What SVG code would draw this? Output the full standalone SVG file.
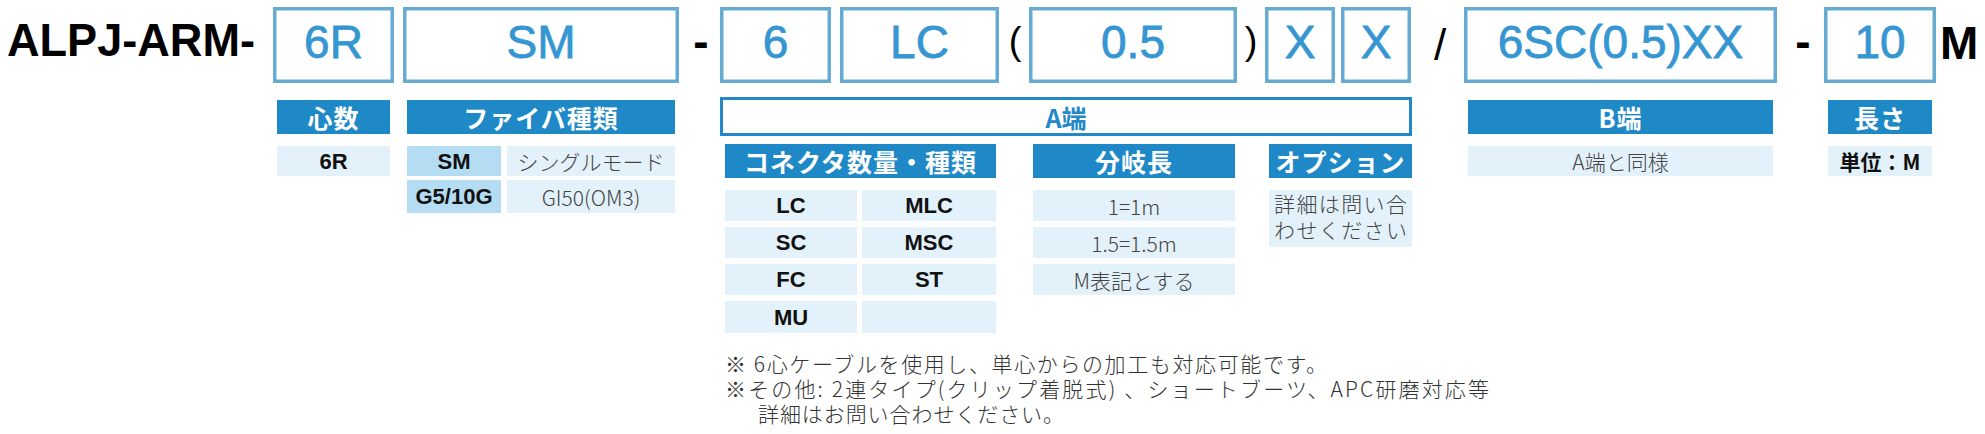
<svg xmlns="http://www.w3.org/2000/svg" width="1985" height="434" viewBox="0 0 1985 434">
<style>
.box{fill:#fff;stroke:#67aad2;stroke-width:3.5}
.big{font-family:"Liberation Sans",Arial,sans-serif;font-size:46px;fill:#3696d2;stroke:#3696d2;stroke-width:0.8;text-anchor:middle}
.blk{font-family:"Liberation Sans",Arial,sans-serif;font-weight:bold;font-size:46px;fill:#000}
.sep{font-family:"Liberation Sans",Arial,sans-serif;font-size:36px;fill:#000;text-anchor:middle}
.hdr{fill:#1f89c7}
.hdrt{font-family:"Noto Sans CJK JP",sans-serif;font-weight:bold;font-size:25px;fill:#fff;text-anchor:middle;dominant-baseline:central;letter-spacing:1px}
.c1{fill:#e2f1fa}
.c2{fill:#b4dcf2}
.cb{font-family:"Liberation Sans","Noto Sans CJK JP",sans-serif;font-weight:bold;font-size:22px;fill:#111;text-anchor:middle;dominant-baseline:central}
.cbj{font-family:"Noto Sans CJK JP",sans-serif;font-weight:bold;font-size:21px;fill:#111;text-anchor:middle;dominant-baseline:central}
.cr{font-family:"Noto Sans CJK JP",sans-serif;font-weight:300;font-size:21px;fill:#444;text-anchor:middle;dominant-baseline:central}
.crl{font-family:"Noto Sans CJK JP",sans-serif;font-weight:300;font-size:21px;fill:#444}
.note{font-family:"Noto Sans CJK JP",sans-serif;font-weight:300;font-size:21px;fill:#333}
.abox{fill:#fff;stroke:#2387c8;stroke-width:3}
.at{font-family:"Noto Sans CJK JP",sans-serif;font-weight:bold;font-size:25px;fill:#2488c8;text-anchor:middle;dominant-baseline:central}
</style>
<rect width="1985" height="434" fill="#fff"/>
<g id="code">
  <text id="prefix" class="blk" x="7" y="56" textLength="248" lengthAdjust="spacingAndGlyphs">ALPJ-ARM-</text>
  <g id="box-6R"><rect class="box" x="274.75" y="8.75" width="117.5" height="72.5"/><text class="big" x="333.5" y="58">6R</text></g>
  <g id="box-SM"><rect class="box" x="404.75" y="8.75" width="272.5" height="72.5"/><text class="big" x="541" y="58">SM</text></g>
  <text id="dash1" class="blk" x="701" y="57" text-anchor="middle">-</text>
  <g id="box-6"><rect class="box" x="721.75" y="8.75" width="107.5" height="72.5"/><text class="big" x="775.5" y="58">6</text></g>
  <g id="box-LC"><rect class="box" x="841.75" y="8.75" width="155.5" height="72.5"/><text class="big" x="919.5" y="58">LC</text></g>
  <text id="paren-open" class="sep" x="1015" y="54" style="font-size:38px">(</text>
  <g id="box-05"><rect class="box" x="1030.75" y="8.75" width="204.5" height="72.5"/><text class="big" x="1133" y="58">0.5</text></g>
  <text id="paren-close" class="sep" x="1251" y="54" style="font-size:38px">)</text>
  <g id="box-X1"><rect class="box" x="1266.75" y="8.75" width="66.5" height="72.5"/><text class="big" x="1300" y="58">X</text></g>
  <g id="box-X2"><rect class="box" x="1342.75" y="8.75" width="66.5" height="72.5"/><text class="big" x="1376" y="58">X</text></g>
  <text id="slash" class="sep" x="1440" y="60" style="font-size:44px">/</text>
  <g id="box-B"><rect class="box" x="1465.75" y="8.75" width="309.5" height="72.5"/><text class="big" x="1620.5" y="58">6SC(0.5)XX</text></g>
  <text id="dash2" class="blk" x="1803" y="57" text-anchor="middle">-</text>
  <g id="box-10"><rect class="box" x="1825.75" y="8.75" width="108.5" height="72.5"/><text class="big" x="1880" y="58">10</text></g>
  <text id="unit-M" class="blk" x="1940" y="59">M</text>
</g>
<g id="connectors"></g>
<g id="col-cores">
  <rect class="hdr" x="277" y="100" width="113" height="34"/><text class="hdrt" x="333.5" y="117">心数</text>
  <rect class="c1" x="277" y="146" width="113" height="30"/><text class="cb" x="333.5" y="161">6R</text>
</g>
<g id="col-fiber">
  <rect class="hdr" x="407" y="100" width="268" height="34"/><text class="hdrt" x="541" y="117">ファイバ種類</text>
  <rect class="c2" x="407" y="146" width="94" height="30"/><text class="cb" x="454" y="161">SM</text>
  <rect class="c1" x="507" y="146" width="168" height="30"/><text class="cr" x="591" y="161">シングルモード</text>
  <rect class="c2" x="407" y="180" width="94" height="33"/><text class="cb" x="454" y="196.5">G5/10G</text>
  <rect class="c1" x="507" y="180" width="168" height="33"/><text class="cr" x="591" y="196.5">GI50(OM3)</text>
</g>
<g id="col-A">
  <rect class="abox" x="721.5" y="98.5" width="689" height="36"/><text class="at" x="1066" y="117">A端</text>
</g>
<g id="col-connector">
  <rect class="hdr" x="725" y="144" width="271" height="34"/><text class="hdrt" x="860.5" y="161">コネクタ数量・種類</text>
  <rect class="c1" x="725" y="190" width="132" height="31"/><text class="cb" x="791" y="205.5">LC</text>
  <rect class="c1" x="862" y="190" width="134" height="31"/><text class="cb" x="929" y="205.5">MLC</text>
  <rect class="c1" x="725" y="227" width="132" height="31"/><text class="cb" x="791" y="242.5">SC</text>
  <rect class="c1" x="862" y="227" width="134" height="31"/><text class="cb" x="929" y="242.5">MSC</text>
  <rect class="c1" x="725" y="264" width="132" height="31"/><text class="cb" x="791" y="279.5">FC</text>
  <rect class="c1" x="862" y="264" width="134" height="31"/><text class="cb" x="929" y="279.5">ST</text>
  <rect class="c1" x="725" y="301" width="132" height="32"/><text class="cb" x="791" y="317">MU</text>
  <rect class="c1" x="862" y="301" width="134" height="32"/>
</g>
<g id="col-branch">
  <rect class="hdr" x="1033" y="144" width="202" height="34"/><text class="hdrt" x="1134" y="161">分岐長</text>
  <rect class="c1" x="1033" y="190" width="202" height="31"/><text class="cr" x="1134" y="205.5">1=1m</text>
  <rect class="c1" x="1033" y="227" width="202" height="31"/><text class="cr" x="1134" y="242.5">1.5=1.5m</text>
  <rect class="c1" x="1033" y="264" width="202" height="31"/><text class="cr" x="1134" y="279.5">M表記とする</text>
</g>
<g id="col-option">
  <rect class="hdr" x="1269" y="144" width="143" height="34"/><text class="hdrt" x="1340.5" y="161">オプション</text>
  <rect class="c1" x="1269" y="190" width="143" height="57"/>
  <text class="crl" x="1274" y="212" textLength="133" lengthAdjust="spacing">詳細は問い合</text>
  <text class="crl" x="1274" y="238" textLength="133" lengthAdjust="spacing">わせください</text>
</g>
<g id="col-B">
  <rect class="hdr" x="1468" y="100" width="305" height="34"/><text class="hdrt" x="1620.5" y="117">B端</text>
  <rect class="c1" x="1468" y="146" width="305" height="30"/><text class="cr" x="1620.5" y="161">A端と同様</text>
</g>
<g id="col-length">
  <rect class="hdr" x="1828" y="100" width="104" height="34"/><text class="hdrt" x="1880" y="117">長さ</text>
  <rect class="c1" x="1828" y="146" width="104" height="30"/><text class="cbj" x="1880" y="161">単位：M</text>
</g>
<g id="notes">
  <text class="note" x="725" y="372" textLength="602" lengthAdjust="spacing">※ 6心ケーブルを使用し、単心からの加工も対応可能です。</text>
  <text class="note" x="725" y="397" textLength="764" lengthAdjust="spacing">※その他: 2連タイプ(クリップ着脱式) 、ショートブーツ、APC研磨対応等</text>
  <text class="note" x="758" y="422" textLength="306" lengthAdjust="spacing">詳細はお問い合わせください。</text>
</g>
</svg>
